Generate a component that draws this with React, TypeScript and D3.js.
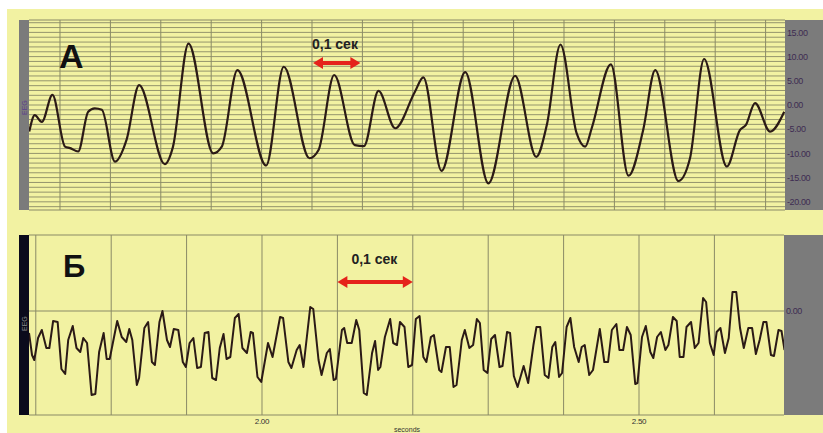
import React from 'react';
import * as d3 from 'd3';

// panel A: slow rhythm (seconds, relative to first grid line), amplitude
const timeA = [
  -0.061, -0.05, -0.036, -0.015, 0.01, 0.02, 0.036, 0.056, 0.069, 0.083,
  0.109, 0.132, 0.157, 0.208, 0.224, 0.255, 0.304, 0.321, 0.352, 0.409,
  0.444, 0.495, 0.513, 0.544, 0.585, 0.603, 0.632, 0.665, 0.704, 0.721,
  0.757, 0.804, 0.85, 0.903, 0.945, 0.966, 0.993, 1.025, 1.042, 1.055,
  1.093, 1.128, 1.157, 1.181, 1.227, 1.25, 1.278, 1.323, 1.349, 1.361,
  1.379, 1.409, 1.437,
];
const eegA = [
  -5.5, -2.1, -3.5, 2.1, -8.6, -8.9, -9.6, -1.4, -0.7, -1.0,
  -11.7, -7.2, 4.1, -12.2, -8.7, 12.7, -10.0, -8.6, 7.2, -12.5,
  7.9, -11.0, -9.3, 6.2, -8.3, -8.5, 2.9, -4.8, 2.7, 5.7,
  -13.6, 6.8, -16.2, 6.0, -10.7, -4.1, 12.5, -5.8, -8.6, -4.8,
  8.4, -14.6, -5.2, 7.2, -15.7, -11.0, 9.5, -12.7, -5.2, -4.1,
  0.4, -5.5, -1.4,
];
const ticksA = [15, 10, 5, 0, -5, -10, -15, -20];

// panel Б: fast rhythm (seconds), amplitude
const timeB = [
  1.691, 1.695, 1.698, 1.703, 1.708, 1.714, 1.718, 1.723, 1.729, 1.734,
  1.739, 1.743, 1.749, 1.754, 1.759, 1.763, 1.768, 1.774, 1.779, 1.784,
  1.79, 1.794, 1.798, 1.808, 1.814, 1.82, 1.824, 1.828, 1.834, 1.837,
  1.844, 1.849, 1.854, 1.858, 1.864, 1.868, 1.874, 1.878, 1.883, 1.889,
  1.895, 1.899, 1.904, 1.909, 1.914, 1.919, 1.924, 1.929, 1.934, 1.939,
  1.944, 1.949, 1.953, 1.958, 1.964, 1.969, 1.974, 1.98, 1.985, 1.988,
  1.994, 1.999, 2.008, 2.014, 2.024, 2.028, 2.035, 2.039, 2.046, 2.05,
  2.055, 2.064, 2.068, 2.075, 2.079, 2.086, 2.09, 2.095, 2.098, 2.106,
  2.109, 2.113, 2.119, 2.125, 2.129, 2.135, 2.139, 2.146, 2.15, 2.154,
  2.157, 2.163, 2.17, 2.174, 2.179, 2.183, 2.189, 2.194, 2.199, 2.204,
  2.209, 2.214, 2.218, 2.224, 2.228, 2.235, 2.238, 2.244, 2.249, 2.254,
  2.258, 2.265, 2.269, 2.275, 2.28, 2.285, 2.289, 2.294, 2.299, 2.304,
  2.309, 2.315, 2.319, 2.325, 2.329, 2.334, 2.339, 2.347, 2.353, 2.36,
  2.364, 2.369, 2.375, 2.38, 2.385, 2.389, 2.394, 2.398, 2.404, 2.409,
  2.414, 2.42, 2.424, 2.428, 2.434, 2.439, 2.448, 2.454, 2.459, 2.464,
  2.47, 2.474, 2.479, 2.484, 2.489, 2.495, 2.498, 2.504, 2.509, 2.515,
  2.519, 2.524, 2.529, 2.535, 2.539, 2.545, 2.55, 2.554, 2.559, 2.563,
  2.569, 2.574, 2.579, 2.585, 2.589, 2.594, 2.599, 2.603, 2.608, 2.614,
  2.619, 2.624, 2.629, 2.634, 2.639, 2.645, 2.65, 2.655, 2.66, 2.665,
  2.669, 2.675, 2.679, 2.685, 2.689, 2.693,
];
const eegB = [
  -11, -22, -24.5, -13.5, -9.5, -18.5, -18.5, -5, -5.5, -29,
  -31.5, -14.5, -7.5, -18.5, -20.5, -13.5, -16, -42, -41.5, -20.5,
  -11, -24, -24, -5, -13, -15.5, -9, -14.5, -37, -33.5,
  -8.5, -5.5, -25.5, -27, -5.5, 0, -14.5, -18, -9, -9.5,
  -25.5, -28, -16, -13.5, -28.5, -28, -11, -10.5, -33.5, -34.5,
  -18.5, -11.5, -24, -23, -3.5, -1.5, -18.5, -21, -10.5, -11,
  -33, -35.5, -16, -23, -3, -3.5, -25.5, -28.5, -19.5, -17,
  -28, 2, 1, -24.5, -32, -21, -19, -34.5, -34, -9.5,
  -8.5, -16, -16, -4.5, -9.5, -41, -42, -21, -15, -29.5,
  -28, -13, -4, -16, -17, -5.5, -8, -28, -27, -4,
  -2.5, -23, -25.5, -13, -12, -29.5, -30.5, -18, -18, -38,
  -37, -14.5, -9.5, -18.5, -17, -4, -6, -29.5, -31, -14,
  -12, -28, -27.5, -10.5, -11, -32.5, -38, -27.5, -36, -17,
  -8, -8, -32, -33.5, -18, -15.5, -33, -31, -8, -3.5,
  -18, -25.5, -18, -17, -32, -29.5, -9, -25.5, -25.5, -9.5,
  -6.5, -19.5, -19.5, -8, -12, -36.5, -36, -13, -7.5, -20.5,
  -23.5, -13, -10.5, -19.5, -17, -3, -5, -23, -23, -8,
  -5.5, -18.5, -16, 6.5, 4.5, -16, -22, -10.5, -8.5, -21,
  -13.5, 9.5, 9.5, -8.5, -18.5, -8.5, -8.5, -21.5, -14.5, -5.5,
  -5.5, -22, -22.5, -9.5, -10, -19.5,
];
const ticksB = [0];
const secondsB = [2.0, 2.5];

const bg = '#f2f2a2';
const gridCol = '#8a8a66';
const traceCol = '#2b1a16';
const labelCol = '#3e2c52';
const arrowCol = '#e5231b';

const fmt = (v: number) => v.toFixed(2);

function Arrow({ x0, x1, y }: { x0: number; x1: number; y: number }) {
  const hl = 10;
  const hh = 6;
  return (
    <g fill={arrowCol}>
      <rect x={x0 + hl - 1} y={y - 2} width={x1 - x0 - 2 * hl + 2} height={4} />
      <polygon points={`${x0},${y} ${x0 + hl},${y - hh} ${x0 + hl},${y + hh}`} />
      <polygon points={`${x1},${y} ${x1 - hl},${y - hh} ${x1 - hl},${y + hh}`} />
    </g>
  );
}

export default function App() {
  // panel A
  const a = { l: 29, r: 785, t: 20, b: 210 };
  const xA = d3.scaleLinear().domain([-0.0615, 1.4385]).range([a.l, a.r]);
  const yA = d3.scaleLinear().domain([-21.69, 17.56]).range([a.b, a.t]);
  const lineA = d3
    .line<number>()
    .x((_, i) => xA(timeA[i]))
    .y((d) => yA(d))
    .curve(d3.curveMonotoneX);
  const hGridA = d3.range(-21, 18, 1);
  const vGridA = d3.range(0, 15).map((k) => k / 10);

  // panel Б
  const b = { l: 29, r: 784, t: 235, b: 415 };
  const xB = d3.scaleLinear().domain([1.691, 2.6923]).range([b.l, b.r]);
  const yB = d3.scaleLinear().domain([-52, 38]).range([b.b, b.t]);
  const lineB = d3
    .line<number>()
    .x((_, i) => xB(timeB[i]))
    .y((d) => yB(d));
  const vGridB = d3.range(17, 27).map((k) => k / 10);

  return (
    <svg
      width={823}
      height={433}
      style={{ position: 'absolute', left: 0, top: 0, background: '#fff' }}
      fontFamily="'Liberation Sans', Arial, sans-serif"
    >
      <defs>
        <clipPath id="clipA">
          <rect x={a.l} y={a.t} width={a.r - a.l} height={a.b - a.t} />
        </clipPath>
        <clipPath id="clipB">
          <rect x={b.l} y={b.t} width={b.r - b.l} height={b.b - b.t} />
        </clipPath>
      </defs>
      <rect x={7} y={9} width={816} height={424} fill={bg} />

      {/* ---- panel A ---- */}
      <g>
        {hGridA.map((v) => (
          <line key={v} x1={a.l} x2={a.r} y1={yA(v)} y2={yA(v)} stroke={gridCol} strokeWidth={0.9} />
        ))}
        {vGridA.map((t) => (
          <line key={t} x1={xA(t)} x2={xA(t)} y1={a.t} y2={a.b} stroke={gridCol} strokeWidth={1} />
        ))}
        <line x1={a.l} x2={a.r} y1={a.t} y2={a.t} stroke={gridCol} />
        <line x1={a.l} x2={a.r} y1={a.b} y2={a.b} stroke={gridCol} />
        <rect x={19} y={a.t} width={a.l - 19} height={a.b - a.t} fill="#7b7b7b" />
        <text
          transform={`translate(26.5,${yA(0) + 10}) rotate(-90)`}
          fontSize={7}
          fill="#5b3f8a"
        >
          EEG
        </text>
        <rect x={a.r} y={a.t} width={823 - a.r} height={a.b - a.t} fill="#7b7b7b" />
        {ticksA.map((v) => (
          <text key={v} x={a.r + 2} y={yA(v)} dy="0.35em" fontSize={9} fill={labelCol} letterSpacing={-0.4}>
            {fmt(v)}
          </text>
        ))}
        <path
          d={lineA(eegA) ?? ''}
          clipPath="url(#clipA)"
          fill="none"
          stroke={traceCol}
          strokeWidth={2.2}
          strokeLinejoin="round"
        />
        <text x={59} y={68} fontSize={34} fontWeight="bold" fill="#111">
          А
        </text>
        <text x={xA(0.5)} y={49} fontSize={14} fontWeight="bold" fill="#222">
          0,1 сек
        </text>
        <Arrow x0={xA(0.5) + 1} x1={xA(0.6) - 2} y={63} />
      </g>

      {/* ---- panel Б ---- */}
      <g>
        {vGridB.map((t) => (
          <line key={t} x1={xB(t)} x2={xB(t)} y1={b.t} y2={b.b} stroke={gridCol} strokeWidth={1} />
        ))}
        {ticksB.map((v) => (
          <line key={v} x1={b.l} x2={b.r} y1={yB(v)} y2={yB(v)} stroke={gridCol} strokeWidth={1} />
        ))}
        <line x1={b.l} x2={b.r} y1={b.t} y2={b.t} stroke={gridCol} />
        <line x1={b.l} x2={b.r} y1={b.b} y2={b.b} stroke={gridCol} />
        <rect x={19} y={b.t} width={b.l - 19} height={b.b - b.t} fill="#0b0b1c" />
        <text
          transform={`translate(27,${yB(0) + 20}) rotate(-90)`}
          fontSize={7}
          fill="#8a8a8a"
        >
          EEG
        </text>
        <rect x={b.r} y={b.t} width={823 - b.r} height={b.b - b.t} fill="#7b7b7b" />
        {ticksB.map((v) => (
          <text key={v} x={b.r + 2} y={yB(v)} dy="0.35em" fontSize={9} fill={labelCol} letterSpacing={-0.4}>
            {fmt(v)}
          </text>
        ))}
        {secondsB.map((t) => (
          <text key={t} x={xB(t)} y={424} textAnchor="middle" fontSize={8} fill="#333" letterSpacing={-0.3}>
            {fmt(t)}
          </text>
        ))}
        <text x={407} y={432} textAnchor="middle" fontSize={7} fill="#333">
          seconds
        </text>
        <path
          d={lineB(eegB) ?? ''}
          clipPath="url(#clipB)"
          fill="none"
          stroke={traceCol}
          strokeWidth={2}
          strokeLinejoin="round"
        />
        <text x={63} y={277} fontSize={31} fontWeight="bold" fill="#111">
          Б
        </text>
        <text x={xB(2.1) + 14} y={264} fontSize={14} fontWeight="bold" fill="#222">
          0,1 сек
        </text>
        <Arrow x0={xB(2.1)} x1={xB(2.2)} y={282} />
      </g>
    </svg>
  );
}
